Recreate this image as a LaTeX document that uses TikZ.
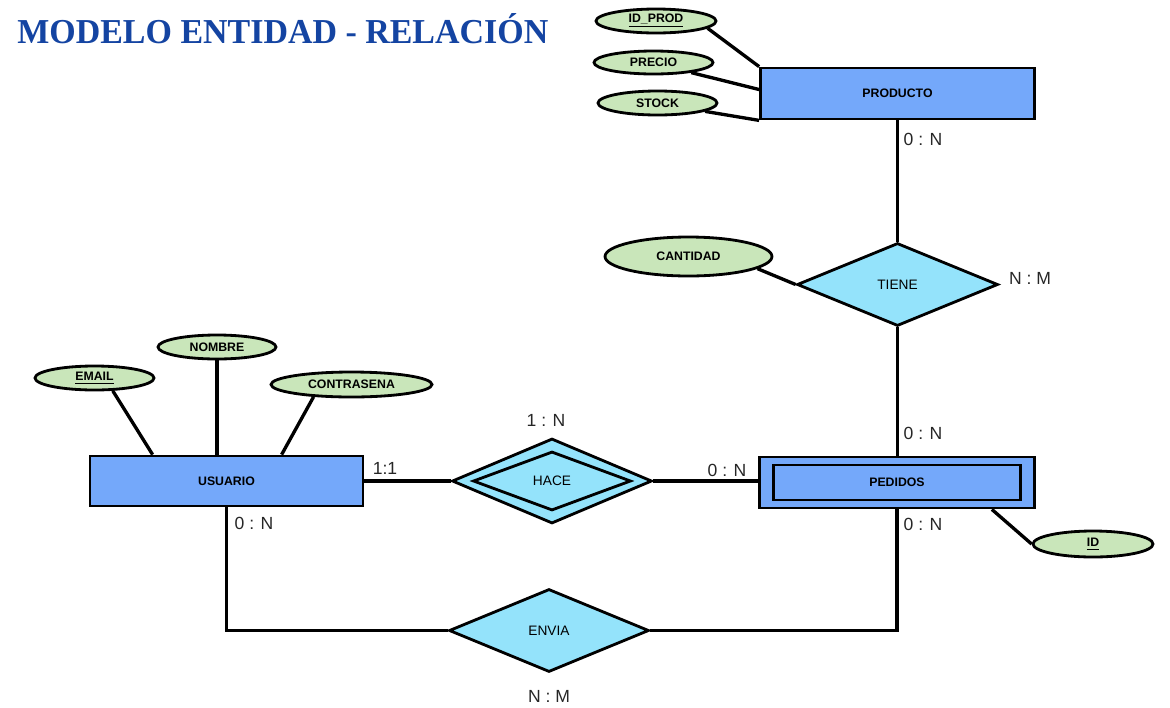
\documentclass[tikz,border=0pt]{standalone}
\usepackage{fontspec}
\setmainfont{Liberation Serif}
\setsansfont{Liberation Sans}
\usepackage{tikz}
\usetikzlibrary{shapes,backgrounds,arrows,calc}

\definecolor{entcolor}{RGB}{116,168,250}
\definecolor{relcolor}{RGB}{148,227,251}
\definecolor{atrcolor}{RGB}{201,230,186}
\definecolor{titcolor}{RGB}{20,68,162}

\tikzset{
	entidad/.style={draw, line width=1.6pt, fill=entcolor, rectangle, inner sep=0pt, font=\sffamily\bfseries\fontsize{7}{8}\selectfont},
	relacion/.style={draw, line width=1.6pt, fill=relcolor, diamond, inner sep=0pt, font=\sffamily\fontsize{7.8}{9}\selectfont},
	atributo/.style={draw, line width=1.6pt, fill=atrcolor, ellipse, inner sep=0pt, font=\sffamily\bfseries\fontsize{7}{8}\selectfont},
	card/.style={font=\sffamily\fontsize{10}{12}\selectfont, text=black!85},
	linea/.style={line width=1.9pt}
}

\begin{document}
\begin{tikzpicture}[x=0.02cm, y=-0.02cm]
			\useasboundingbox (0, 0) rectangle (1170, 707);
			\node[anchor=base west, inner sep=0pt, text=titcolor] (titulo) at (17, 43) {\resizebox{10.62cm}{0.6cm}{\bfseries MODELO ENTIDAD - RELACIÓN}};
			% entidades
			\node[entidad, minimum width=5.48cm, minimum height=1.02cm] (producto) at (897.5, 93.5) {PRODUCTO};
			\node[entidad, minimum width=5.46cm, minimum height=1.0cm] (usuario) at (226.5, 481) {USUARIO};
			\node[entidad, minimum width=5.5cm, minimum height=1.02cm] (pedidos) at (897, 482.5) {};
			\node[entidad, minimum width=4.94cm, minimum height=0.7cm] (pedidosin) at (pedidos) {PEDIDOS};
			% relaciones
			\node[relacion, minimum width=4.02cm, minimum height=1.66cm] (tiene) at (897.5, 284.5) {TIENE};
			\node[relacion, minimum width=4.0cm, minimum height=1.7cm] (hace) at (552, 481) {};
			\node[relacion, minimum width=3.16cm, minimum height=1.18cm] (hacein) at (hace) {HACE};
			\node[relacion, minimum width=4.0cm, minimum height=1.66cm] (envia) at (549, 630.5) {ENVIA};
			% atributos
			\node[atributo, minimum width=2.4cm, minimum height=0.48cm] (idprod) at (656, 21) {\underline{ID\_PROD}};
			\node[atributo, minimum width=2.38cm, minimum height=0.46cm] (precio) at (653.5, 62.5) {PRECIO};
			\node[atributo, minimum width=2.38cm, minimum height=0.48cm] (stock) at (657.5, 103) {STOCK};
			\node[atributo, minimum width=3.34cm, minimum height=0.78cm] (cantidad) at (688.5, 256.5) {CANTIDAD};
			\node[atributo, minimum width=2.38cm, minimum height=0.48cm] (email) at (94.5, 378) {\underline{EMAIL}};
			\node[atributo, minimum width=2.36cm, minimum height=0.48cm] (nombre) at (217, 347) {NOMBRE};
			\node[atributo, minimum width=3.22cm, minimum height=0.5cm] (contrasena) at (351.5, 384.5) {CONTRASENA};
			\node[atributo, minimum width=2.4cm, minimum height=0.52cm] (id) at (1093, 544) {\underline{ID}};
			% lineas
			\begin{scope}[on background layer]
			\draw[linea] (idprod.-8) -- (producto.north west);
			\draw[linea] (precio.-15) -- ($(producto.west) + (0, -4)$);
			\draw[linea] (stock.-10) -- (producto.south west);
			\draw[linea] (producto.south) -- (tiene.north);
			\draw[linea] (cantidad.-10) -- (tiene.west);
			\draw[linea] (tiene.south) -- (tiene.south |- pedidos.north);
			\draw[linea] (email.-35) -- ($(usuario.north west) + (64, 0)$);
			\draw[linea] (nombre.south) -- (nombre.south |- usuario.north);
			\draw[linea] (contrasena.198) -- ($(usuario.north west) + (193, 0)$);
			\draw[linea] (usuario.east) -- (hace.west);
			\draw[linea] (hace.east) -- (hace.east -| pedidos.west);
			\draw[linea] ($(pedidos.south east) + (-44, 0)$) -- (id.west);
			\draw[linea] (usuario.south) |- (envia.west);
			\draw[linea] (envia.east) -| (pedidos.south);
			\end{scope}
			% cardinalidades
			\node[card] (c1) at (923, 139) {0 : N};
			\node[card] (c2) at (1030, 278) {N : M};
			\node[card] (c3) at (923, 433) {0 : N};
			\node[card] (c4) at (923, 524) {0 : N};
			\node[card] (c5) at (546, 420) {1 : N};
			\node[card] (c6) at (385, 468) {1:1};
			\node[card] (c7) at (727, 470) {0 : N};
			\node[card] (c8) at (254, 523) {0 : N};
			\node[card] (c9) at (549, 696) {N : M};
		\end{tikzpicture}
\end{document}
